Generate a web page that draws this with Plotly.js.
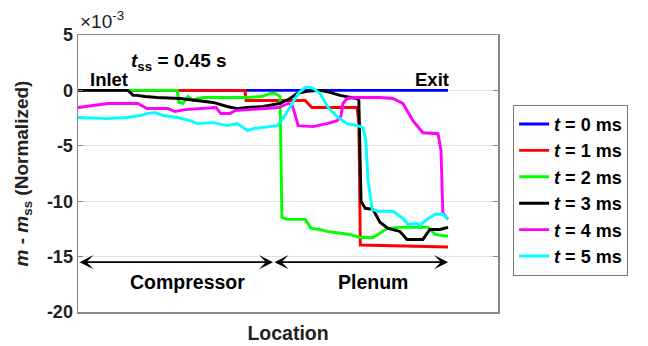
<!DOCTYPE html>
<html>
<head>
<meta charset="utf-8">
<script src="https://cdn.plot.ly/plotly-3.0.1.min.js"></script>
<style>html,body{margin:0;padding:0;background:#fff;}#chart{width:648px;height:346px;}</style>
</head>
<body>
<div id="chart"></div>
<script>
// Location along the system (percent, inlet = 0, exit = 100); values in units of 1e-3
const seriesNames = ["t = 0 ms", "t = 1 ms", "t = 2 ms", "t = 3 ms", "t = 4 ms", "t = 5 ms"];
const seriesColors = ["#0000ff", "#ff0000", "#00ff00", "#000000", "#ff00ff", "#00ffff"];

const x0 = [0, 100];
const y0 = [0, 0];

const x1 = [0, 45.1, 45.4, 61.4, 63.2, 75.4, 75.9, 76.3, 100];
const y1 = [0, 0, -0.91, -0.91, -1.55, -1.55, -3.0, -13.95, -14.14];

const x2 = [0, 26.8, 27.3, 28.4, 29.7, 31.1, 32.2, 34.3, 41.1, 45.7, 49.7, 51.9, 53.2, 54.1, 54.6, 55.1, 56.5, 61.4, 63.0, 65.4, 67.3, 73.5, 76.2, 79.7, 81.6, 83.5, 87.0, 94.6, 96.5, 100];
const y2 = [0, 0, -1.09, -1.18, -0.55, -0.91, -0.73, -0.64, -0.64, -0.64, -0.55, -0.27, -0.27, -0.45, -0.55, -11.45, -11.64, -11.64, -12.45, -12.55, -12.73, -13.0, -13.27, -13.27, -12.9, -12.45, -12.36, -12.36, -13.0, -13.18];

const x3 = [0, 13.5, 14.9, 15.9, 18.1, 21.4, 27.6, 32.2, 36.5, 40.3, 43.0, 45.7, 50.0, 54.6, 57.3, 59.2, 61.9, 65.4, 68.1, 70.8, 73.5, 75.4, 75.9, 76.5, 77.6, 79.7, 81.6, 83.8, 87.0, 88.9, 93.2, 95.1, 97.8, 100];
const y3 = [0, 0, -0.45, -0.45, -0.55, -0.64, -0.73, -0.91, -1.09, -1.45, -1.64, -1.55, -1.45, -1.18, -0.73, -0.27, -0.09, 0, -0.18, -0.45, -0.64, -0.73, -0.91, -10.0, -10.64, -10.73, -11.9, -12.45, -12.73, -13.45, -13.45, -12.55, -12.55, -12.36];

const x4 = [0, 8.1, 16.2, 18.6, 24.3, 26.2, 28.9, 33.5, 37.3, 38.6, 41.1, 42.4, 47.3, 51.1, 54.1, 56.8, 57.8, 58.6, 59.5, 63.5, 67.3, 70.0, 71.1, 71.6, 72.7, 75.4, 81.6, 85.1, 87.8, 90.5, 93.2, 97.3, 98.1, 98.6, 100];
const y4 = [-1.55, -1.18, -1.18, -1.64, -1.64, -1.91, -1.73, -1.64, -1.55, -2.09, -2.09, -1.82, -1.73, -1.64, -1.55, -1.18, -1.27, -2.09, -3.18, -3.27, -3.0, -2.73, -2.27, -1.18, -0.73, -0.64, -0.64, -0.73, -1.18, -2.73, -3.82, -3.91, -5.45, -11.09, -11.64];

const x5 = [0, 7.8, 13.2, 16.8, 18.6, 20.8, 23.0, 26.8, 30.3, 32.2, 36.5, 40.3, 43.0, 44.6, 45.9, 47.3, 51.1, 53.8, 55.4, 57.3, 59.5, 61.4, 62.7, 63.5, 65.4, 67.6, 70.3, 72.7, 75.4, 77.0, 77.8, 78.4, 79.5, 81.1, 85.1, 87.8, 89.2, 91.6, 92.4, 94.3, 96.5, 98.6, 100];
const y5 = [-2.45, -2.55, -2.45, -2.27, -2.09, -2.0, -2.27, -2.45, -2.73, -3.0, -2.91, -3.18, -3.0, -3.36, -3.64, -3.45, -3.27, -3.18, -2.55, -1.55, -0.27, 0.27, 0.27, 0.18, -0.27, -1.55, -2.45, -3.0, -3.18, -3.36, -4.55, -8.18, -10.73, -10.91, -10.91, -11.55, -12.09, -12.0, -12.18, -11.64, -11.18, -11.18, -11.64];

const yTicks = [5, 0, -5, -10, -15, -20];
const regionNames = ["Compressor", "Plenum"];
const regionEdges = [0, 52.7, 100];
const regionLabelX = [29.7, 79.7];

const xs = [x0, x1, x2, x3, x4, x5];
const ys = [y0, y1, y2, y3, y4, y5];

const FONT = "Liberation Sans, Arial, sans-serif";

const traces = xs.map((xv, i) => ({
  x: xv, y: ys[i], type: "scatter", mode: "lines",
  name: "<b><i>t</i>" + seriesNames[i].slice(1) + "</b>",
  line: {color: seriesColors[i], width: 2.9},
  hoverinfo: "skip"
}));

const arrowY = -15.5;
const annotations = [];
for (let k = 0; k < regionNames.length; k++) {
  annotations.push({
    x: regionEdges[k + 1], y: arrowY, ax: regionEdges[k], ay: arrowY,
    xref: "x", yref: "y", axref: "x", ayref: "y",
    text: "", showarrow: true, arrowside: "end+start",
    arrowhead: 3, startarrowhead: 3, arrowsize: 1.3, startarrowsize: 1.3,
    arrowwidth: 1.8, arrowcolor: "#000"
  });
  annotations.push({
    x: regionLabelX[k], y: -17.3,
    xref: "x", yref: "y", text: "<b>" + regionNames[k] + "</b>",
    showarrow: false, font: {family: FONT, size: 19.5, color: "#000"}
  });
}
annotations.push({x: 2.6, y: 0.95, xref: "x", yref: "y", xanchor: "left", yanchor: "middle",
  text: "<b>Inlet</b>", showarrow: false, font: {family: FONT, size: 18.5, color: "#000"}});
annotations.push({x: 100.8, y: 0.95, xref: "x", yref: "y", xanchor: "right", yanchor: "middle",
  text: "<b>Exit</b>", showarrow: false, font: {family: FONT, size: 18.5, color: "#000"}});
annotations.push({x: 13.8, y: 2.6, xref: "x", yref: "y", xanchor: "left", yanchor: "middle",
  text: "<b><i>t</i><sub>ss</sub> = 0.45 s</b>", showarrow: false, font: {family: FONT, size: 19, color: "#000"}});
annotations.push({x: 0, y: 1, xref: "paper", yref: "paper", xanchor: "left", yanchor: "bottom", yshift: 1,
  text: "×10<sup>-3</sup>", showarrow: false, font: {family: FONT, size: 19, color: "#222"}});

const layout = {
  width: 648, height: 346,
  margin: {l: 78, r: 150, t: 35, b: 34},
  paper_bgcolor: "#fff", plot_bgcolor: "#fff",
  showlegend: true,
  legend: {
    x: 1.036, y: 0.748, xanchor: "left", yanchor: "top",
    bgcolor: "#fff", bordercolor: "#777", borderwidth: 1,
    font: {family: FONT, size: 18, color: "#000"}, tracegroupgap: 0
  },
  xaxis: {
    range: [0, 113.5], showticklabels: false, ticks: "", showgrid: false, zeroline: false,
    showline: true, linecolor: "#888", linewidth: 1.5, mirror: true,
    title: {text: "<b>Location</b>", font: {family: FONT, size: 19.5, color: "#222"}, standoff: 14}
  },
  yaxis: {
    range: [-20, 5], tickvals: yTicks, ticktext: yTicks.map(v => "<b>" + v + "</b>"),
    ticks: "inside", ticklen: 5, tickcolor: "#888", mirror: "ticks",
    showline: true, linecolor: "#888", linewidth: 1.5,
    showgrid: true, gridcolor: "#e2e2e2", gridwidth: 1, zeroline: false,
    tickfont: {family: FONT, size: 18, color: "#222"},
    title: {text: "<b><i>m</i> - <i>m</i><sub>ss</sub> (Normalized)</b>", font: {family: FONT, size: 19, color: "#222"}, standoff: 13}
  },
  annotations: annotations
};

Plotly.newPlot("chart", traces, layout, {staticPlot: true, displayModeBar: false});
</script>
</body>
</html>
